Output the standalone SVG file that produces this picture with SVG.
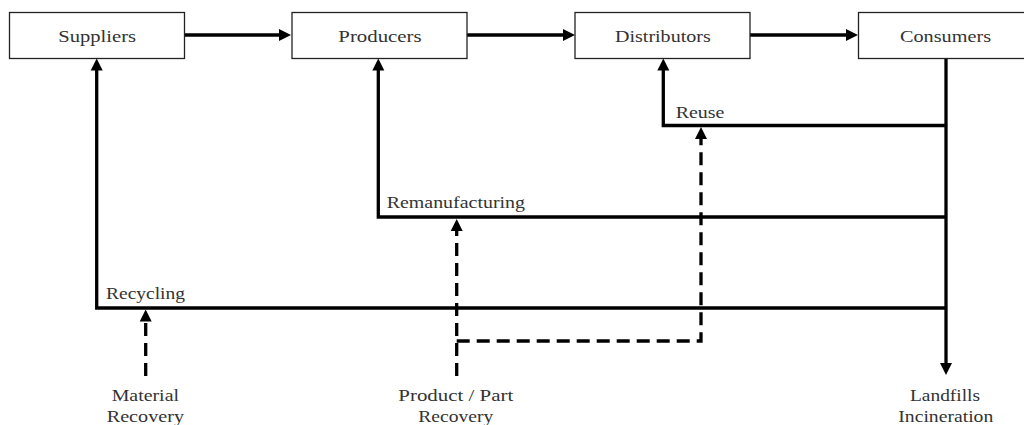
<svg xmlns="http://www.w3.org/2000/svg" width="1024" height="425" viewBox="0 0 1024 425">
<defs>
<style>
.box{fill:#fff;stroke:#222;stroke-width:1.3}
.t{font-family:"Liberation Serif","DejaVu Serif",serif;font-size:17px;fill:#333}
.ln{fill:none;stroke:#000;stroke-width:3.3}
.dash{fill:none;stroke:#000;stroke-width:3.3;stroke-dasharray:13 7}
</style>
<marker id="ah" viewBox="0 0 12 12" refX="2" refY="6" markerWidth="12" markerHeight="13" markerUnits="userSpaceOnUse" orient="auto">
<path d="M0,0 L12,6 L0,12 z" fill="#000"/>
</marker>
</defs>
<rect width="1024" height="425" fill="#fff"/>
<g id="connectors">
<path class="ln" d="M184,35 H281" marker-end="url(#ah)"/>
<path class="ln" d="M467,35 H565" marker-end="url(#ah)"/>
<path class="ln" d="M750,35 H848" marker-end="url(#ah)"/>
<path class="ln" d="M946,308 H96.7 V68.5" marker-end="url(#ah)"/>
<path class="ln" d="M946,217 H378.3 V68.5" marker-end="url(#ah)"/>
<path class="ln" d="M946,125.5 H663.3 V68.5" marker-end="url(#ah)"/>
<path class="ln" d="M946,58.5 V365" marker-end="url(#ah)"/>
<path class="dash" d="M145.7,376 V319.5" marker-end="url(#ah)"/>
<path class="dash" d="M456.7,376 V229" marker-end="url(#ah)"/>
<path class="dash" d="M456.7,341 H701 V137" marker-end="url(#ah)"/>
<text class="t" x="675.7" y="118.3" textLength="48.7" lengthAdjust="spacingAndGlyphs">Reuse</text>
<text class="t" x="386.7" y="208.3" textLength="138.3" lengthAdjust="spacingAndGlyphs">Remanufacturing</text>
<text class="t" x="106" y="299.3" textLength="79" lengthAdjust="spacingAndGlyphs">Recycling</text>
</g>
<g id="suppliers">
<rect class="box" x="9.5" y="12.5" width="175" height="46"/>
<text class="t" x="58.3" y="41.5" textLength="77.7" lengthAdjust="spacingAndGlyphs">Suppliers</text>
</g>
<g id="producers">
<rect class="box" x="292" y="12.5" width="175" height="46"/>
<text class="t" x="338.3" y="41.5" textLength="83.3" lengthAdjust="spacingAndGlyphs">Producers</text>
</g>
<g id="distributors">
<rect class="box" x="575" y="12.5" width="175" height="46"/>
<text class="t" x="615" y="41.5" textLength="95.7" lengthAdjust="spacingAndGlyphs">Distributors</text>
</g>
<g id="consumers">
<rect class="box" x="858.5" y="12.5" width="175" height="46"/>
<text class="t" x="900" y="41.5" textLength="91" lengthAdjust="spacingAndGlyphs">Consumers</text>
</g>
<g id="material-recovery">
<text class="t" x="111.7" y="400.7" textLength="67.3" lengthAdjust="spacingAndGlyphs">Material</text>
<text class="t" x="106.7" y="421.7" textLength="77.3" lengthAdjust="spacingAndGlyphs">Recovery</text>
</g>
<g id="product-part-recovery">
<text class="t" x="398.3" y="400.7" textLength="115" lengthAdjust="spacingAndGlyphs">Product / Part</text>
<text class="t" x="418.3" y="421.7" textLength="75" lengthAdjust="spacingAndGlyphs">Recovery</text>
</g>
<g id="landfills-incineration">
<text class="t" x="910" y="400.7" textLength="70" lengthAdjust="spacingAndGlyphs">Landfills</text>
<text class="t" x="898.3" y="421.7" textLength="95" lengthAdjust="spacingAndGlyphs">Incineration</text>
</g>
</svg>
